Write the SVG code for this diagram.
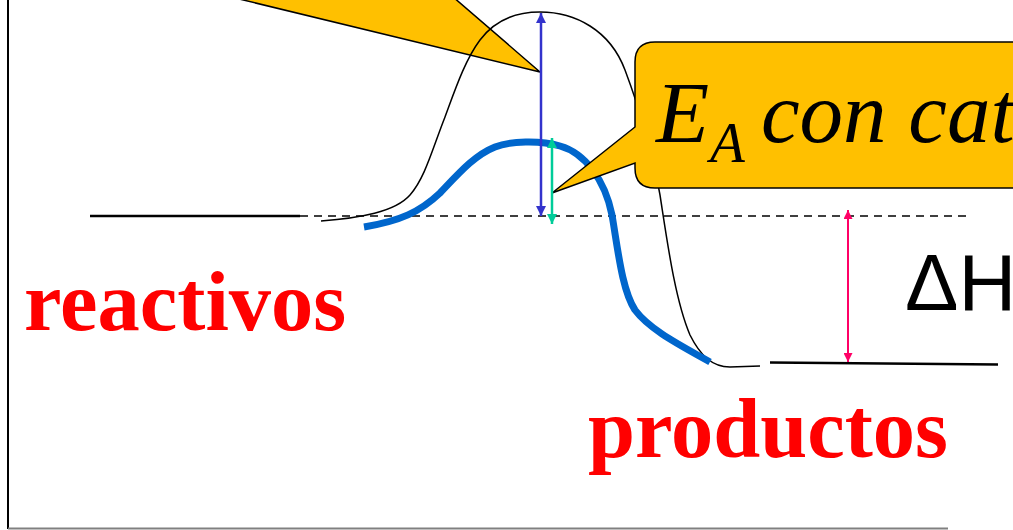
<svg xmlns="http://www.w3.org/2000/svg" width="1013" height="530" viewBox="0 0 1013 530">
<defs>
<style>
.lbl{font-family:"Liberation Serif","Times New Roman",serif;font-weight:bold;fill:#FF0000;font-size:84.5px}
.ea{font-family:"Liberation Serif","Times New Roman",serif;font-style:italic;fill:#000}
.dh{font-family:"Liberation Sans",Arial,sans-serif;fill:#000;font-size:80px}
.call{fill:#FFC000;stroke:#000;stroke-width:1.5;stroke-linejoin:miter}
.curve{fill:none;stroke:#000;stroke-width:1.5}
.cat{fill:none;stroke:#0066CC;stroke-width:7}
.lvl{stroke:#000;stroke-width:2.5;fill:none}
.dash{stroke:#000;stroke-width:1.5;stroke-dasharray:8,6;fill:none}
</style>
<marker id="hb" viewBox="0 0 10 10" refX="10" refY="5" markerWidth="10" markerHeight="10" markerUnits="userSpaceOnUse" orient="auto-start-reverse"><path d="M0,0 L10,5 L0,10 Z" fill="#3333CC"/></marker>
<marker id="hg" viewBox="0 0 10 10" refX="10" refY="5" markerWidth="10" markerHeight="10" markerUnits="userSpaceOnUse" orient="auto-start-reverse"><path d="M0,0 L10,5 L0,10 Z" fill="#00CC99"/></marker>
<marker id="hp" viewBox="0 0 10 10" refX="10" refY="5" markerWidth="9" markerHeight="9" markerUnits="userSpaceOnUse" orient="auto-start-reverse"><path d="M0,0 L10,5 L0,10 Z" fill="#FF0066"/></marker>
</defs>
<rect width="1013" height="530" fill="#fff"/>
<g id="frame">
<line x1="8" y1="0" x2="8" y2="529" stroke="#000" stroke-width="2"/>
<line x1="8" y1="528.5" x2="948" y2="528.5" stroke="#808080" stroke-width="2"/>
</g>
<g id="callout-ea-sin">
<polygon class="call" points="202,-10 540,72 445,-10"/>
</g>
<g id="levels">
<line class="lvl" x1="90" y1="216" x2="300" y2="216"/>
<line class="dash" x1="300" y1="216" x2="968" y2="216"/>
<line class="lvl" x1="770" y1="362.5" x2="998" y2="364.5"/>
</g>
<g id="curve-uncatalyzed">
<path class="curve" d="M321,221 C360,218 395,212 410,195 C425,178 432,150 445,117 C455,90 465,60 480,40 C495,20 515,12 540,12 C575,12 610,30 625,70 C640,110 652,150 660,195 C667,240 675,300 690,335 C700,355 712,367 730,367 L760,366"/>
</g>
<g id="curve-catalyzed">
<path class="cat" d="M364,227 C400,221 420,212 440,193 C460,172 475,155 495,147 C510,141 540,140 560,146 C585,153 605,180 612,215 C618,250 622,290 635,310 C650,330 680,345 710,362"/>
</g>
<g id="callout-ea-cat">
<path class="call" d="M655,42 H1040 V188 H655 Q635,188 635,168 V163 L552,193 L635,127 V62 Q635,42 655,42 Z"/>
<text class="ea"><tspan x="656" y="142" font-size="87">E</tspan><tspan x="710" y="162" font-size="57">A</tspan><tspan x="761" y="142" font-size="87">con cat</tspan></text>
</g>
<g id="connectors">
<line x1="541" y1="13" x2="541" y2="216" stroke="#3333CC" stroke-width="2.5" marker-start="url(#hb)" marker-end="url(#hb)"/>
<line x1="552" y1="138" x2="552" y2="224" stroke="#00CC99" stroke-width="2.5" marker-start="url(#hg)" marker-end="url(#hg)"/>
<line x1="848" y1="210" x2="848" y2="362" stroke="#FF0066" stroke-width="2" marker-start="url(#hp)" marker-end="url(#hp)"/>
</g>
<g id="label-reactivos"><text class="lbl" x="24" y="330">reactivos</text></g>
<g id="label-productos"><text class="lbl" x="588" y="457">productos</text></g>
<g id="label-dh"><text class="dh" x="905" y="310">ΔH</text></g>
</svg>
